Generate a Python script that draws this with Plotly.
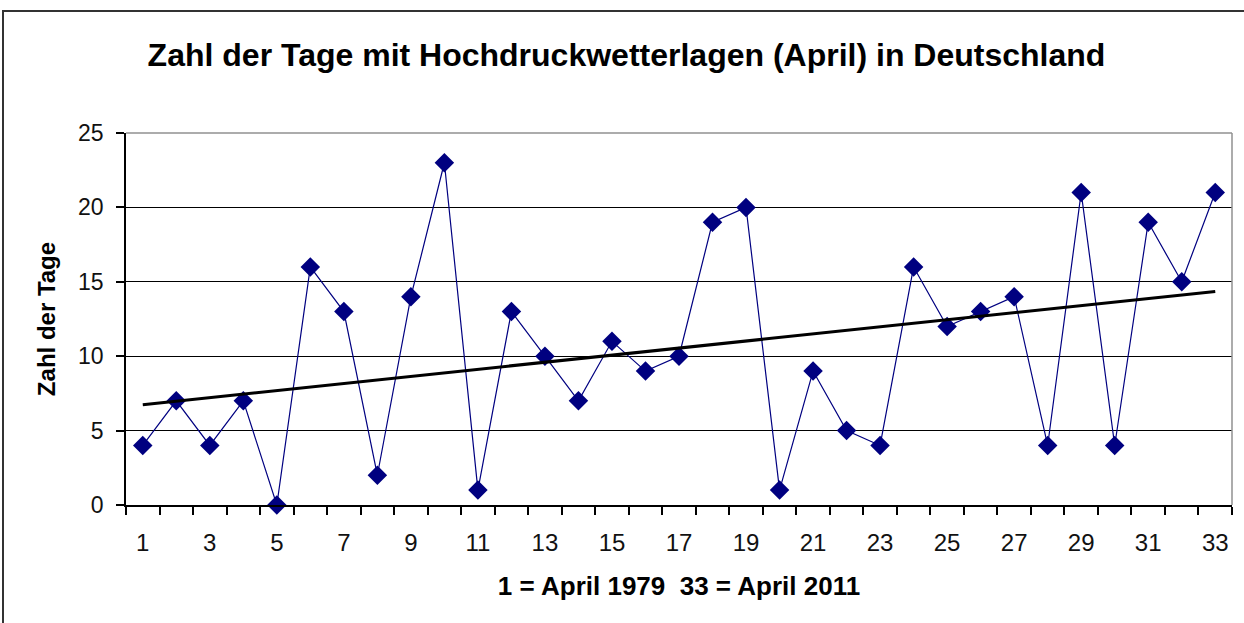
import numpy as np
import plotly.graph_objects as go

categories = [str(i) for i in range(1, 34)]
tage = [4, 7, 4, 7, 0, 16, 13, 2, 14, 23, 1, 13, 10, 7, 11, 9, 10, 19, 20, 1,
        9, 5, 4, 16, 12, 13, 14, 4, 21, 4, 19, 15, 21]
tick_labels = [c if int(c) % 2 == 1 else "" for c in categories]

xnum = np.arange(1, len(tage) + 1)
slope, intercept = np.polyfit(xnum, tage, 1)
trend = list(slope * xnum + intercept)

FONT = "Liberation Sans, Arial, sans-serif"

fig = go.Figure()
fig.add_trace(go.Scatter(
    x=categories, y=tage, mode="lines+markers",
    line=dict(color="#000080", width=1.2),
    marker=dict(symbol="diamond", size=15, color="#000080"),
    showlegend=False, cliponaxis=False))
fig.add_trace(go.Scatter(
    x=categories, y=trend, mode="lines",
    line=dict(color="black", width=3),
    showlegend=False))

fig.update_layout(
    width=1244, height=623,
    margin=dict(l=126, r=12, t=133, b=118),
    paper_bgcolor="white", plot_bgcolor="white",
    font=dict(family=FONT, color="black"),
    title=dict(text="<b>Zahl der Tage mit Hochdruckwetterlagen (April) in Deutschland</b>",
               x=626.5 / 1244, xanchor="center", xref="container", y=1 - 55 / 623, yanchor="middle",
               font=dict(size=32, family=FONT, color="black")),
)
fig.update_xaxes(
    type="category", tickvals=categories, ticktext=tick_labels, tickangle=0,
    tickson="boundaries", ticks="outside", ticklen=8, tickcolor="black", tickwidth=1.5,
    showline=True, linecolor="black", linewidth=1.5, showgrid=False,
    tickfont=dict(size=24, family=FONT, color="#111"),
    ticklabelstandoff=15,
    title=dict(text="<b>1 = April 1979  33 = April 2011</b>", standoff=22,
               font=dict(size=26, family=FONT, color="black")),
    range=[-0.5, 32.5])
fig.update_yaxes(
    range=[0, 25], tickvals=[0, 5, 10, 15, 20, 25],
    ticks="outside", ticklen=8, tickcolor="black", tickwidth=1.5,
    showline=True, linecolor="black", linewidth=1.5,
    showgrid=True, gridcolor="black", gridwidth=1.4, zeroline=False,
    tickfont=dict(size=23, family=FONT, color="#111"),
    ticklabelstandoff=8,
    title=dict(text="<b>Zahl der Tage</b>", standoff=16,
               font=dict(size=24, family=FONT, color="black")))

# plot area border (top/right) in gray
fig.add_shape(type="line", xref="paper", yref="paper", x0=0, x1=1, y0=1, y1=1,
              line=dict(color="#909090", width=1.5), layer="above")
fig.add_shape(type="line", xref="paper", yref="paper", x0=1, x1=1, y0=0, y1=1,
              line=dict(color="#909090", width=1.5), layer="above")
# outer chart border
fig.add_shape(type="rect", xref="paper", yref="paper",
              x0=(3 - 126) / 1106, x1=1.05, y0=-0.5, y1=(505 - 11) / 372,
              line=dict(color="#333333", width=2), layer="below")

fig.write_html("out.html", config={"displayModeBar": False},
               post_script="document.body.style.margin='0';")
